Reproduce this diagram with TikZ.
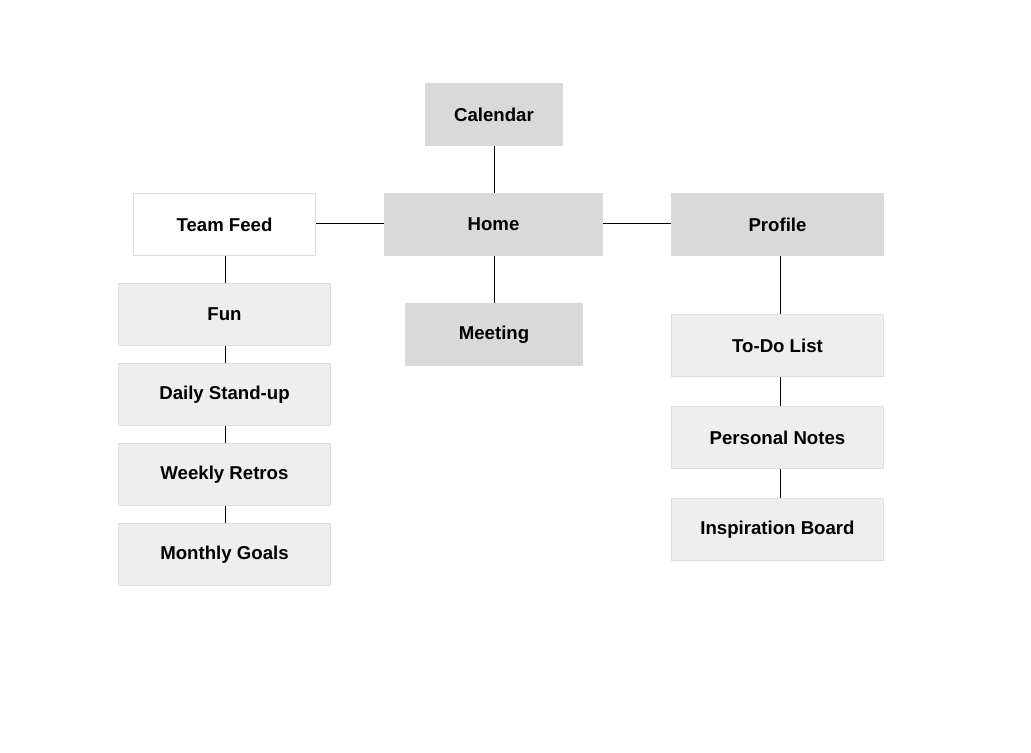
\documentclass[tikz,border=0pt]{standalone}
\usepackage{fontspec}
\setmainfont{Liberation Sans}
\usepackage{tikz}
\usetikzlibrary{positioning}
\definecolor{boxdark}{HTML}{D9D9D9}
\definecolor{boxlight}{HTML}{EEEEEE}
\definecolor{boxline}{HTML}{DEDEDE}

\begin{document}
\begin{tikzpicture}[x=0.02cm,y=-0.02cm,
  blk/.style={draw=boxline,line width=0.5pt,align=center,font=\fontsize{10.6}{12}\selectfont\bfseries,minimum width=4.25cm,minimum height=1.25cm,inner sep=0pt,fill=boxlight},
  dark/.style={blk,draw=boxdark,fill=boxdark},
  plain/.style={blk,fill=white},
  ln/.style={line width=0.55pt,black}]
\useasboundingbox (0,0) rectangle (1031,752);
\node[dark,minimum width=2.75cm] (cal) at (494,114.5) {Calendar};
\node[dark,minimum width=4.37cm] (home) at (493.5,224.5) {Home};
\node[plain,minimum width=3.65cm] (team) at (224.5,224.5) {Team Feed};
\node[dark] (prof) at (777.5,224.5) {Profile};
\node[dark,minimum width=3.55cm] (meet) at (494,334.5) {Meeting};
\node[blk] (fun) at (224.5,314.5) {Fun};
\node[blk] (daily) at (224.5,394.5) {Daily Stand-up};
\node[blk] (weekly) at (224.5,474.5) {Weekly Retros};
\node[blk] (monthly) at (224.5,554.5) {Monthly Goals};
\node[blk] (todo) at (777.5,345.5) {To-Do List};
\node[blk] (notes) at (777.5,437.5) {Personal Notes};
\node[blk] (insp) at (777.5,529.5) {Inspiration Board};
\draw[ln] ([xshift=0.01cm]cal.south)--([xshift=0.01cm]cal.south|-home.north);
\draw[ln] ([xshift=0.01cm]meet.north|-home.south)--([xshift=0.01cm]meet.north);
\draw[ln] ([yshift=0.02cm]team.east)--([yshift=0.02cm]home.west);
\draw[ln] ([yshift=0.02cm]home.east)--([yshift=0.02cm]prof.west);
\foreach \a/\b in {team/fun,fun/daily,daily/weekly,weekly/monthly} \draw[ln] ([xshift=0.02cm]\a.south)--([xshift=0.02cm]\b.north);
\foreach \a/\b in {prof/todo,todo/notes,notes/insp} \draw[ln] ([xshift=0.06cm]\a.south)--([xshift=0.06cm]\b.north);
\end{tikzpicture}
\end{document}
